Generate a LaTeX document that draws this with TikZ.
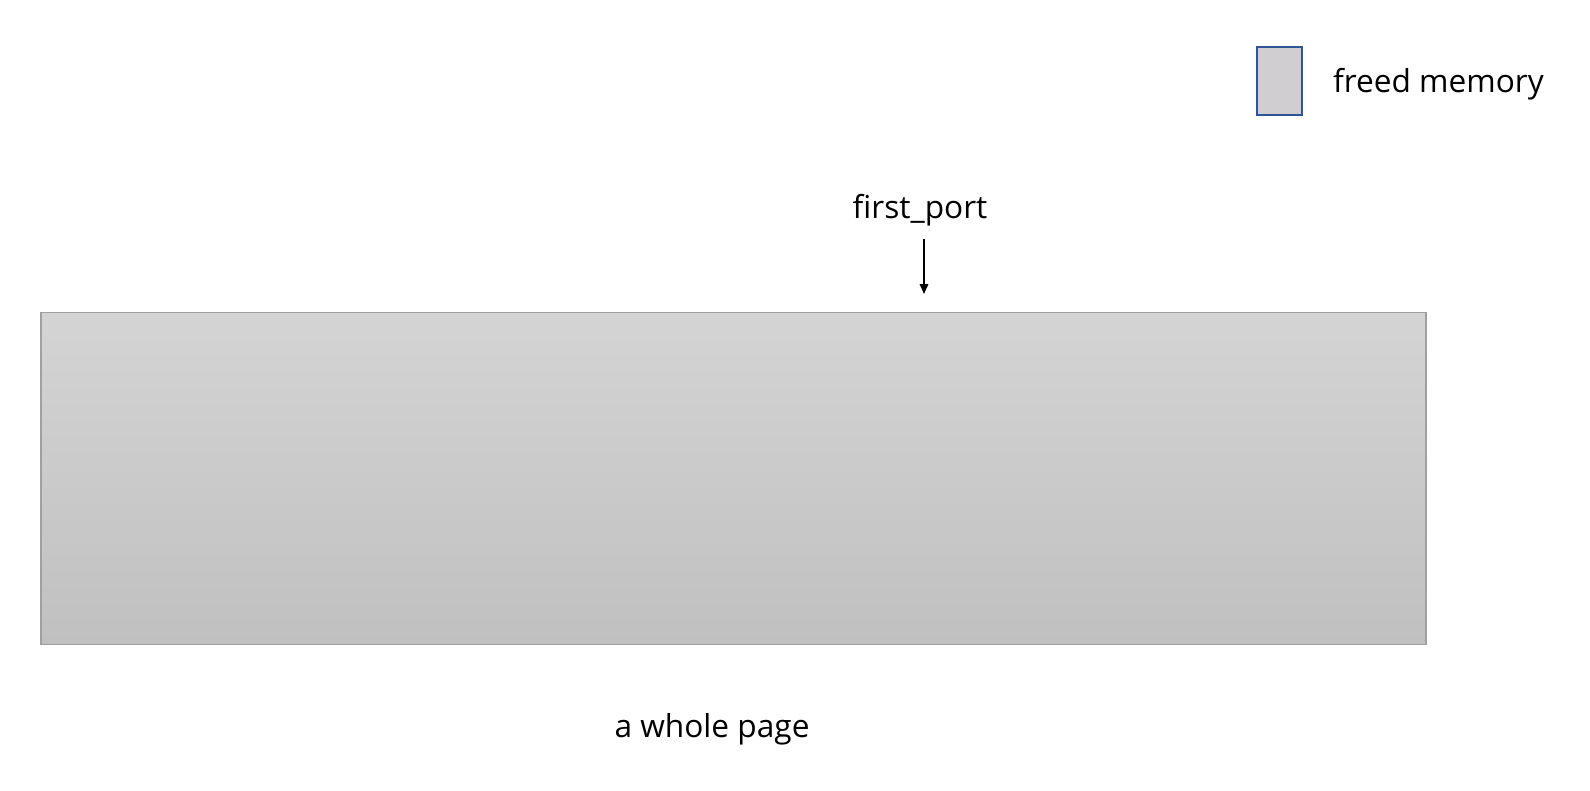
\documentclass[tikz,border=0pt]{standalone}
\usepackage{fontspec}
\setmainfont{Open Sans}
\usetikzlibrary{arrows.meta}
\definecolor{pagetop}{HTML}{D4D4D4}
\definecolor{pagebot}{HTML}{C0C0C0}
\definecolor{pageline}{HTML}{A0A0A0}
\definecolor{freedfill}{HTML}{D0CED0}
\definecolor{freedline}{HTML}{2F5597}

\begin{document}
\begin{tikzpicture}[x=0.025cm, y=-0.025cm,
    label/.style={font=\fontsize{22.5}{26}\selectfont, inner sep=2pt},
    pointer/.style={-{Triangle[length=7pt, width=6pt]}, line width=1.1pt}]

    \useasboundingbox (0,0) rectangle (1590,790);

    % Legend
    \node[draw=freedline, line width=1.2pt, fill=freedfill, minimum width=45*0.025cm, minimum height=68*0.025cm, inner sep=0pt] (legend) at (1279.5,81) {};
    \node[label, anchor=west] (legendtext) at (1330,84) {freed memory};

    % The page
    \node[draw=pageline, line width=0.8pt, top color=pagetop, bottom color=pagebot, minimum width=1385*0.025cm, minimum height=332*0.025cm, inner sep=0pt] (page) at (733.5,478.5) {};
    \node[label] (pagetext) at (712,729) {a whole page};

    % Pointer
    \node[label] (firstport) at (920,210) {first\_port};
    \coordinate (portend) at (924,294);
    \draw[pointer] (firstport.south -| portend) ++(0,10) -- (portend);

\end{tikzpicture}
\end{document}
